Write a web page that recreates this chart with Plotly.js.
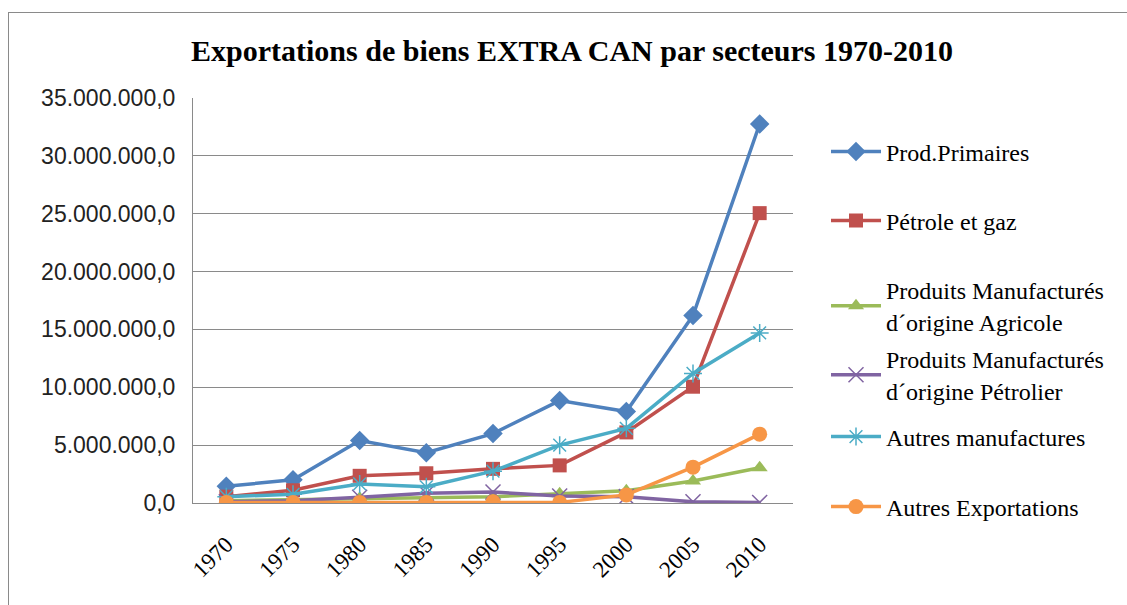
<!DOCTYPE html>
<html>
<head>
<meta charset="utf-8">
<script src="https://cdn.plot.ly/plotly-3.0.1.min.js"></script>
<style>
html,body{margin:0;padding:0;background:#fff;overflow:hidden;}
#chart{position:absolute;left:0;top:0;width:1127px;height:605px;}
#frame{position:absolute;left:8px;top:12px;width:1200px;height:700px;border-left:1px solid #8a8a8a;border-top:1px solid #8a8a8a;pointer-events:none;}
</style>
</head>
<body>
<div id="chart"></div>
<div id="frame"></div>
<script>
// Data (values in units)
const years = ['1970','1975','1980','1985','1990','1995','2000','2005','2010'];
const prodPrimaires  = [1450000, 2000000, 5400000, 4350000, 6000000, 8850000, 7900000, 16200000, 32750000];
const petroleGaz     = [550000, 1100000, 2350000, 2570000, 2950000, 3250000, 6100000, 10050000, 25050000];
const manufAgricole  = [200000, 300000, 400000, 500000, 550000, 800000, 1050000, 1900000, 3050000];
const manufPetrolier = [100000, 200000, 500000, 850000, 950000, 600000, 550000, 100000, 50000];
const autresManuf    = [550000, 750000, 1650000, 1400000, 2750000, 5000000, 6450000, 11200000, 14700000];
const autresExport   = [50000, 50000, 50000, 50000, 100000, 50000, 700000, 3100000, 5950000];
const seriesNames = ['Prod.Primaires', 'Pétrole et gaz', 'Produits Manufacturés<br>d´origine Agricole',
  'Produits Manufacturés<br>d´origine Pétrolier', 'Autres manufactures', 'Autres Exportations'];
const yTicks = [0, 5000000, 10000000, 15000000, 20000000, 25000000, 30000000, 35000000];

const colors = ['#4F81BD', '#C0504D', '#9BBB59', '#8064A2', '#4BACC6', '#F79646'];
const markers = [
  {symbol:'diamond', size:15},
  {symbol:'square', size:14},
  {symbol:'triangle-up', size:14},
  {symbol:'x-thin-open', size:15, line:{width:1.5}},
  {symbol:'asterisk-open', size:15, line:{width:1.5}},
  {symbol:'circle', size:15}
];
const allSeries = [prodPrimaires, petroleGaz, manufAgricole, manufPetrolier, autresManuf, autresExport];
const legendIds = ['legend','legend2','legend3','legend4','legend5','legend6'];

const traces = allSeries.map((vals, i) => {
  const m = Object.assign({color: colors[i]}, markers[i]);
  if (m.line) m.line = Object.assign({color: colors[i]}, m.line);
  return {
    x: years, y: vals, name: seriesNames[i], type: 'scatter', mode: 'lines+markers',
    line: {color: colors[i], width: 3.5},
    marker: m, legend: legendIds[i], showlegend: true, hoverinfo: 'x+y'
  };
});

// plot area in px: x 193..793, y 98..503
const pl = 193, pr = 793, pt = 98, pb = 503;
const legendCentersPx = [152, 221, 306, 375, 437, 507];
const legendFont = {family: '"Liberation Serif", "Times New Roman", serif', size: 24, color: '#000'};
const layout = {
  width: 1127, height: 605,
  margin: {l: pl, r: 1127 - pr, t: pt, b: 605 - pb, pad: 0},
  paper_bgcolor: 'rgba(0,0,0,0)', plot_bgcolor: '#fff',
  separators: ',.',
  showlegend: true,
  title: {
    text: 'Exportations de biens EXTRA CAN par secteurs 1970-2010',
    font: {family: '"Liberation Serif", "Times New Roman", serif', size: 30, color: '#000', weight: 'bold'},
    x: 572 / 1127, xref: 'container', xanchor: 'center',
    y: 1 - 50 / 605, yref: 'container', yanchor: 'middle'
  },
  xaxis: {
    type: 'category', tickangle: -45, showgrid: false,
    showline: true, linecolor: '#8a8a8a', linewidth: 1,
    ticks: '', ticklabelstandoff: 18,
    tickfont: {family: '"Liberation Serif", "Times New Roman", serif', size: 23, color: '#000'},
    range: [-0.5, 8.5], zeroline: false
  },
  yaxis: {
    range: [0, 35000000], tickvals: yTicks, tickformat: ',.1f',
    showgrid: true, gridcolor: '#8a8a8a', gridwidth: 1,
    showline: true, linecolor: '#8a8a8a', linewidth: 1,
    ticks: '', ticklabelstandoff: 12, zeroline: false,
    tickfont: {family: '"Liberation Sans", Arial, sans-serif', size: 23, color: '#222'}
  },
  hovermode: 'closest'
};
legendIds.forEach((id, i) => {
  layout[id] = {
    x: (826 - pl) / (pr - pl), xanchor: 'left', xref: 'paper',
    y: (pb - legendCentersPx[i]) / (pb - pt), yanchor: 'middle', yref: 'paper',
    bgcolor: 'rgba(0,0,0,0)', borderwidth: 0, font: legendFont,
    itemwidth: 50, itemclick: false, itemdoubleclick: false, visible: true
  };
});

Plotly.newPlot('chart', traces, layout, {displayModeBar: false});
</script>
</body>
</html>
